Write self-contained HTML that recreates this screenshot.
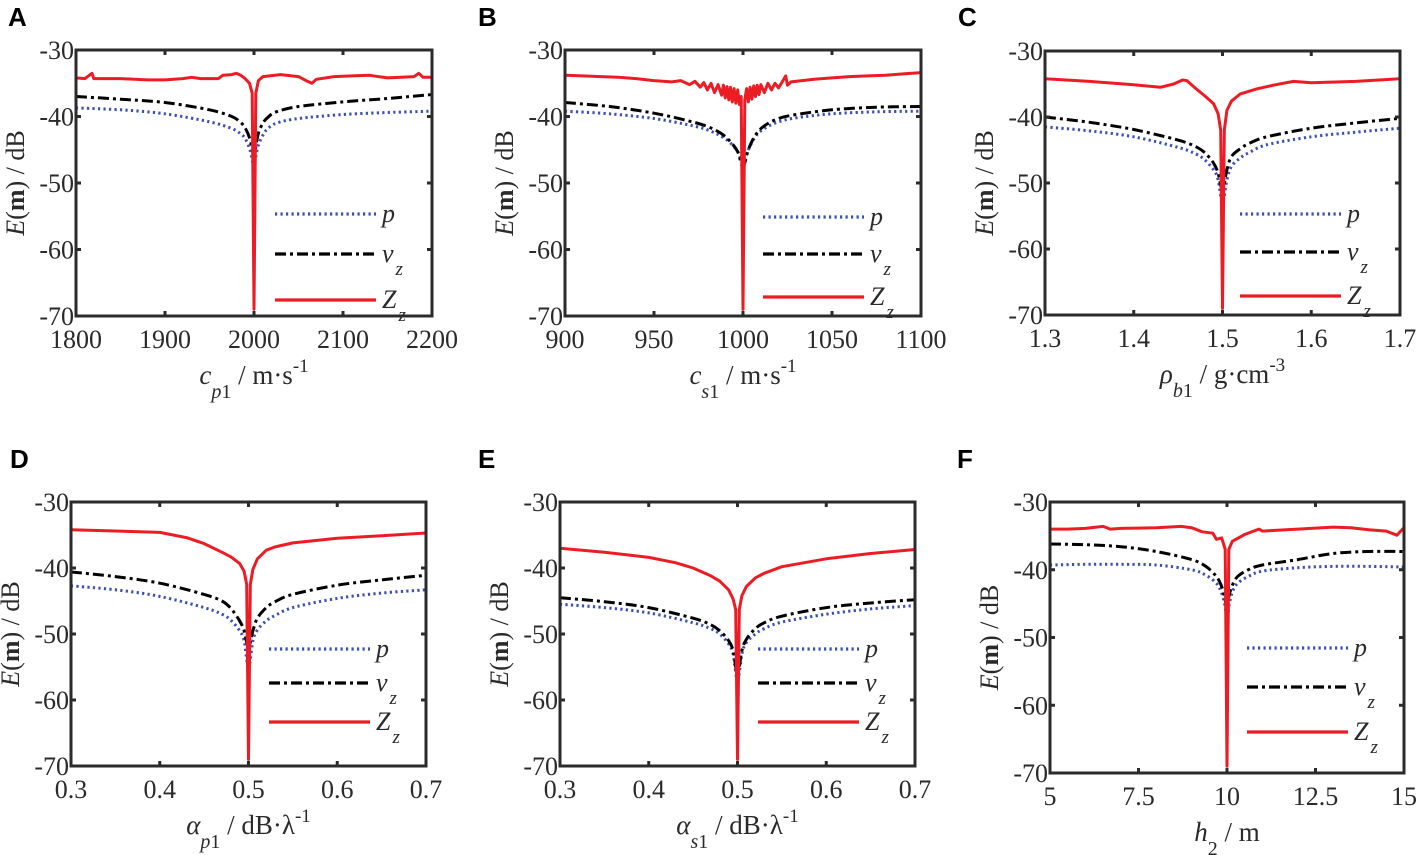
<!DOCTYPE html>
<html><head><meta charset="utf-8">
<style>
html,body{margin:0;padding:0;background:#fff;}
svg{display:block;}
</style></head>
<body>
<svg id="fig" width="1417" height="855" viewBox="0 0 1417 855" xmlns="http://www.w3.org/2000/svg"></svg>
<script>
// ---- Panel A data ----
const xA=[1800,1850,1900,1950,1975,1985,1990,1995,1998,2000,2002,2005,2010,2015,2025,2050,2100,2150,2200];
const pA=[-38.7,-39,-39.6,-40.8,-41.8,-42.6,-43.3,-44.8,-46.5,-48,-46,-44.3,-42.8,-41.9,-41,-40.3,-39.7,-39.4,-39.2];
const vA=[-37,-37.4,-37.9,-39,-40,-40.9,-41.7,-43.2,-45,-46,-44.5,-42.5,-41,-40.2,-39.3,-38.5,-37.8,-37.3,-36.7];
const zxA=[1800,1810,1818,1820,1850,1880,1900,1920,1930,1940,1960,1965,1975,1980,1985,1990,1995,1998,2000,2002,2005,2010,2030,2050,2060,2065,2070,2090,2110,2130,2150,2180,2185,2190,2200];
const zA=[-34.2,-34.3,-33.5,-34.3,-34.3,-34.5,-34.5,-34.3,-34.1,-34.3,-34.3,-33.8,-33.7,-33.5,-33.8,-34.3,-35,-36.5,-69,-36.5,-34.6,-34,-33.7,-34,-34.7,-35,-34.4,-34,-33.9,-33.8,-34.2,-34,-33.5,-34.1,-34.1];
const ticksA=[1800,1900,2000,2100,2200];
const tickLabA=["1800","1900","2000","2100","2200"];
// ---- Panel B data ----
const xB=[900,925,950,970,980,988,993,997,1000,1003,1007,1012,1020,1030,1050,1075,1100];
const pB=[-39.2,-39.6,-40.3,-41.3,-42,-43,-44,-45.3,-47,-45,-43,-41.8,-40.8,-40.2,-39.6,-39.3,-39.2];
const vB=[-37.9,-38.5,-39.5,-40.7,-41.5,-42.6,-43.8,-45.3,-47.5,-45,-42.8,-41.4,-40.3,-39.7,-39,-38.6,-38.5];
const zxB=[900,910,920,930,940,950,960,965,970,973,976,978,980,982,984,986,988,989,990,991,992,993,994,995,996,997,998,999,1000,1001,1002,1003,1004,1005,1006,1007,1008,1009,1010,1012,1014,1016,1018,1020,1022,1024,1025,1027,1030,1040,1050,1060,1070,1080,1090,1100];
const zB=[-33.8,-33.9,-34,-34.1,-34.3,-34.6,-34.8,-34.6,-35.2,-34.7,-35.6,-34.9,-36,-35,-36.4,-35.2,-36.8,-35.3,-37.2,-35.5,-37.5,-35.6,-37.8,-35.8,-38,-36,-38.2,-37,-69,-37.5,-35.8,-37.8,-35.6,-37.4,-35.4,-37,-35.3,-36.7,-35.2,-36.4,-35,-36,-35,-35.7,-34.8,-33.9,-35.3,-34.8,-34.7,-34.4,-34.2,-34,-33.9,-33.8,-33.6,-33.4];
const ticksB=[900,950,1000,1050,1100];
const tickLabB=["900","950","1000","1050","1100"];
// ---- Panel C data ----
const xC=[1.3,1.35,1.4,1.45,1.47,1.48,1.49,1.495,1.5,1.505,1.51,1.52,1.53,1.55,1.6,1.65,1.7];
const pC=[-41.5,-42.1,-43,-44.6,-45.6,-46.5,-48,-49.5,-53,-49.5,-47.5,-46.2,-45.4,-44.2,-43,-42.3,-41.7];
const vC=[-40,-40.8,-41.9,-43.5,-44.5,-45.4,-47,-48.5,-51,-48,-46,-44.8,-44,-43,-41.7,-40.9,-40.2];
const zxC=[1.3,1.35,1.4,1.43,1.445,1.455,1.46,1.47,1.48,1.49,1.495,1.498,1.5,1.502,1.505,1.51,1.52,1.54,1.56,1.58,1.6,1.65,1.7];
const zC=[-34.2,-34.6,-35.1,-35.5,-35,-34.4,-34.5,-35.7,-36.8,-38,-39.5,-42,-69,-42,-39,-37.6,-36.5,-35.7,-35.1,-34.6,-34.8,-34.6,-34.2];
const ticksC=[1.3,1.4,1.5,1.6,1.7];
const tickLabC=["1.3","1.4","1.5","1.6","1.7"];
// ---- Panel D data ----
const xD=[0.3,0.35,0.4,0.45,0.47,0.48,0.49,0.495,0.5,0.505,0.51,0.52,0.53,0.55,0.6,0.65,0.7];
const pD=[-42.7,-43.3,-44.3,-46,-47,-47.9,-49.5,-51,-55,-51,-49.4,-48,-47.2,-46,-44.6,-43.8,-43.3];
const vD=[-40.6,-41.3,-42.3,-44,-45,-46.1,-48,-49.5,-52,-49.5,-47.6,-46,-45.1,-44,-42.6,-41.8,-41.1];
const zxD=[0.3,0.35,0.4,0.43,0.45,0.47,0.48,0.49,0.495,0.498,0.5,0.502,0.505,0.51,0.52,0.53,0.55,0.6,0.65,0.7];
const zD=[-34.2,-34.4,-34.6,-35.4,-36.3,-37.6,-38.3,-39.3,-40.5,-42.5,-69,-42.5,-40.2,-38.6,-37.3,-36.8,-36.2,-35.5,-35.1,-34.7];
const ticksD=[0.3,0.4,0.5,0.6,0.7];
const tickLabD=["0.3","0.4","0.5","0.6","0.7"];
// ---- Panel E data ----
const xE=[0.3,0.35,0.4,0.45,0.47,0.48,0.49,0.495,0.5,0.505,0.51,0.52,0.53,0.55,0.6,0.65,0.7];
const pE=[-45.5,-46,-46.8,-48.3,-49.2,-50,-51.5,-53,-57,-53,-51.3,-50,-49.2,-48.2,-47,-46.2,-45.7];
const vE=[-44.5,-45.1,-46,-47.6,-48.6,-49.5,-51,-52.5,-56,-52.5,-50.8,-49.2,-48.3,-47.3,-46,-45.3,-44.8];
const zxE=[0.3,0.35,0.4,0.43,0.45,0.47,0.48,0.49,0.495,0.498,0.5,0.502,0.505,0.51,0.52,0.53,0.55,0.6,0.65,0.7];
const zE=[-37,-37.6,-38.4,-39.2,-40,-41.2,-42,-43.3,-44.7,-46.3,-69,-46.3,-44.2,-42.8,-41.5,-40.8,-39.8,-38.6,-37.8,-37.2];
const ticksE=[0.3,0.4,0.5,0.6,0.7];
const tickLabE=["0.3","0.4","0.5","0.6","0.7"];
// ---- Panel F data ----
const xF=[5,6,7,8,9,9.4,9.7,9.85,9.95,10,10.05,10.15,10.3,10.6,11,12,13,14,15];
const pF=[-39.3,-39.2,-39.2,-39.3,-40,-40.8,-42,-43.5,-45.5,-48,-45.5,-43.3,-42,-41,-40.2,-39.7,-39.5,-39.5,-39.6];
const vF=[-36.2,-36.3,-36.6,-37.3,-38.5,-39.5,-41,-42.5,-44.5,-46,-44,-42.3,-41,-40,-39.3,-38.5,-37.6,-37.3,-37.3];
const zxF=[5,5.5,6,6.5,6.7,7,8,8.7,9,9.3,9.6,9.7,9.85,9.95,10,10.05,10.15,10.5,10.9,11,12,13,13.5,14,14.5,14.8,15];
const zF=[-34,-34,-33.9,-33.6,-34,-33.9,-33.8,-33.6,-33.8,-34.4,-34.6,-35.5,-35.3,-37,-69,-37,-35.8,-34.8,-34,-34.3,-34,-33.7,-33.8,-34.1,-34.3,-34.9,-33.8];
const ticksF=[5,7.5,10,12.5,15];
const tickLabF=["5","7.5","10","12.5","15"];
const yTicks=[-30,-40,-50,-60,-70];
const yTickLab=["-30","-40","-50","-60","-70"];

const NS="http://www.w3.org/2000/svg";
const SERIF='"Liberation Serif","Times New Roman","DejaVu Serif",serif';
const fig=document.getElementById('fig');
function mk(tag,attrs,parent){const e=document.createElementNS(NS,tag);for(const k in attrs)e.setAttribute(k,attrs[k]);(parent||fig).appendChild(e);return e;}
function txt(attrs,parent){attrs['font-family']=SERIF;if(!attrs['font-size'])attrs['font-size']=25;attrs.fill='#2a2a2a';return mk('text',attrs,parent);}
function smooth(pts){
  let d='M'+pts[0][0].toFixed(1)+','+pts[0][1].toFixed(1);
  for(let i=0;i<pts.length-1;i++){
    const p0=pts[Math.max(0,i-1)],p1=pts[i],p2=pts[i+1],p3=pts[Math.min(pts.length-1,i+2)];
    const t=1/6;
    d+='C'+(p1[0]+(p2[0]-p0[0])*t).toFixed(1)+','+(p1[1]+(p2[1]-p0[1])*t).toFixed(1)+' '+(p2[0]-(p3[0]-p1[0])*t).toFixed(1)+','+(p2[1]-(p3[1]-p1[1])*t).toFixed(1)+' '+p2[0].toFixed(1)+','+p2[1].toFixed(1);
  }
  return d;
}
function linear(pts){return pts.map((q,i)=>(i?'L':'M')+q[0].toFixed(1)+','+q[1].toFixed(1)).join('');}

function panel(o){
  const g=mk('g',{});
  
  
  const sx=v=>o.L+(v-o.xmin)/(o.xmax-o.xmin)*(o.R-o.L);
  const sy=v=>o.T+(-30-v)/40*(o.B-o.T);
  const let_=mk('text',{x:o.lx,y:o.ly,'font-family':'"Liberation Sans",Arial,sans-serif','font-size':26,'font-weight':'bold',fill:'#000'},g);let_.textContent=o.id;
  
  
  const clip='c'+o.id;
  const cp=mk('clipPath',{id:clip},g);mk('rect',{x:o.L,y:o.T,width:o.R-o.L,height:o.B-o.T},cp);
  const series=[[o.x,o.p,'#3b4db8','3','2.2 3.3','p-series',true],[o.x,o.v,'#000','3','11 4 3 4','vz-series',true],[o.zx,o.z,'#ec1c24','3','','zz-series',false]];
  series.forEach(s=>{
    const pts=s[0].map((xv,i)=>[sx(xv),sy(s[1][i])]);
    const d=s[6]?smooth(pts):linear(pts);
    const pa=mk('path',{d:d,fill:'none',stroke:s[2],'stroke-width':s[3],'stroke-dasharray':s[4],'clip-path':'url(#'+clip+')','stroke-linejoin':'round'},g);
    
    
  });
  const lg=[['#3b4db8','2.2 3.3','p',''],['#000','11 4 3 4','v','z'],['#ec1c24','','Z','z']];
  lg.forEach((l,i)=>{
    const y=o.leg[i];
    const ln=mk('line',{x1:o.R-o.legL,x2:o.R-o.legL+101,y1:y,y2:y,stroke:l[0],'stroke-width':3.2,'stroke-dasharray':l[1]},g);
    
    
    const t=txt({x:o.R-o.legL+107,y:y+8,'font-style':'italic','font-size':26},g);
    
    
    t.textContent=l[2];
    if(l[3]){const s=mk('tspan',{dx:2,dy:13,'font-size':19},t);s.textContent=l[3];}
  });
  const bx=mk('rect',{x:o.L,y:o.T,width:o.R-o.L,height:o.B-o.T,fill:'none',stroke:'#2b2b2b','stroke-width':3},g);
  
  
  o.ticks.forEach((tv,i)=>{
    const X=sx(tv);
    mk('line',{x1:X,x2:X,y1:o.B,y2:o.B-5,stroke:'#2b2b2b','stroke-width':3},g);
    mk('line',{x1:X,x2:X,y1:o.T,y2:o.T+5,stroke:'#2b2b2b','stroke-width':3},g);
    const t=txt({x:X,y:o.B+32,'text-anchor':'middle','font-size':26},g);
    
    
    t.textContent=o.tl[i];
  });
  yTicks.forEach((tv,i)=>{
    const Y=sy(tv);
    mk('line',{x1:o.L,x2:o.L+5,y1:Y,y2:Y,stroke:'#2b2b2b','stroke-width':3},g);
    mk('line',{x1:o.R,x2:o.R-5,y1:Y,y2:Y,stroke:'#2b2b2b','stroke-width':3},g);
    const t=txt({x:o.L-2,y:Y+9,'text-anchor':'end','font-size':26},g);
    
    
    t.textContent=yTickLab[i];
  });
  const cy=(o.T+o.B)/2, cx=o.L-52;
  const yl=txt({x:cx,y:cy,'text-anchor':'middle',transform:'rotate(-90 '+cx+' '+cy+')','font-size':26},g);
  
  
  let s=mk('tspan',{'font-style':'italic'},yl);s.textContent='E';
  s=mk('tspan',{},yl);s.textContent='(';
  s=mk('tspan',{'font-weight':'bold'},yl);s.textContent='m';
  s=mk('tspan',{},yl);s.textContent=') / dB';
  const xl=txt({x:(o.L+o.R)/2,y:o.B+68,'text-anchor':'middle','font-size':27},g);
  
  
  s=mk('tspan',{'font-style':'italic'},xl);s.textContent=o.xv;
  if(o.xs){s=mk('tspan',{dy:14,'font-size':20,'font-style':'italic'},xl);s.textContent=o.xs;
    s=mk('tspan',{'font-size':20},xl);s.textContent=o.xs2;}
  else{s=mk('tspan',{dy:14,'font-size':20},xl);s.textContent=o.xs2;}
  s=mk('tspan',{dy:-14},xl);s.textContent=o.xu;
  if(o.xe){s=mk('tspan',{dy:-12,'font-size':19},xl);s.textContent=o.xe;}
}
panel({id:'A',lx:8,ly:26,L:76,R:432,T:50,B:316,xmin:1800,xmax:2200,x:xA,p:pA,v:vA,zx:zxA,z:zA,ticks:ticksA,tl:tickLabA,legL:157,leg:[214,254,300],xv:'c',xs:'p',xs2:'1',xu:' / m·s',xe:'-1'});
panel({id:'B',lx:478,ly:26,L:565,R:921,T:50,B:316,xmin:900,xmax:1100,x:xB,p:pB,v:vB,zx:zxB,z:zB,ticks:ticksB,tl:tickLabB,legL:158,leg:[217,254,297],xv:'c',xs:'s',xs2:'1',xu:' / m·s',xe:'-1'});
panel({id:'C',lx:958,ly:26,L:1045,R:1400,T:51,B:315,xmin:1.3,xmax:1.7,x:xC,p:pC,v:vC,zx:zxC,z:zC,ticks:ticksC,tl:tickLabC,legL:160,leg:[214,252,296],xv:'ρ',xs:'b',xs2:'1',xu:' / g·cm',xe:'-3'});
panel({id:'D',lx:10,ly:468,L:71,R:426,T:502,B:766,xmin:0.3,xmax:0.7,x:xD,p:pD,v:vD,zx:zxD,z:zD,ticks:ticksD,tl:tickLabD,legL:157,leg:[649,683,722],xv:'α',xs:'p',xs2:'1',xu:' / dB·λ',xe:'-1'});
panel({id:'E',lx:478,ly:468,L:560,R:915,T:502,B:766,xmin:0.3,xmax:0.7,x:xE,p:pE,v:vE,zx:zxE,z:zE,ticks:ticksE,tl:tickLabE,legL:157,leg:[649,683,722],xv:'α',xs:'s',xs2:'1',xu:' / dB·λ',xe:'-1'});
panel({id:'F',lx:957,ly:468,L:1050,R:1404,T:502,B:773,xmin:5,xmax:15,x:xF,p:pF,v:vF,zx:zxF,z:zF,ticks:ticksF,tl:tickLabF,legL:157,leg:[648,687,732],xv:'h',xs:'',xs2:'2',xu:' / m',xe:''});
</script>
</body></html>
